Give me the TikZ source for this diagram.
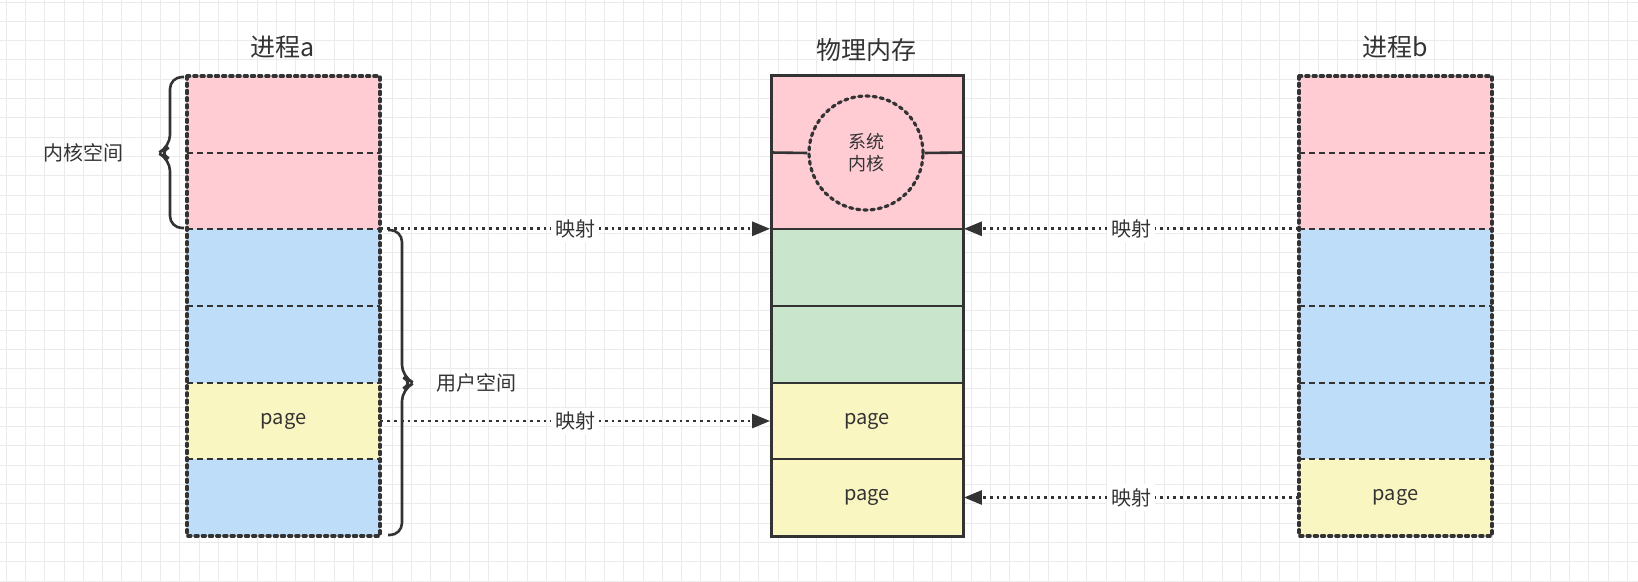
\documentclass[tikz,border=0pt]{standalone}
\usepackage{fontspec}
\setmainfont{Noto Sans CJK SC}
\usetikzlibrary{arrows.meta}
\definecolor{pk}{HTML}{FFCCD4}
\definecolor{bl}{HTML}{BEDDF9}
\definecolor{yl}{HTML}{FAF6C2}
\definecolor{gr}{HTML}{C9E5CB}
\definecolor{gl}{HTML}{EBEBEB}
\definecolor{tx}{HTML}{333333}
\tikzset{
 cell/.style={minimum width=96.5pt,minimum height=38.3pt,inner sep=0,draw=none,text=tx,font=\fontsize{10}{12}\selectfont},
 sep/.style={densely dashed,line width=1pt,draw=tx},
 outl/.style={dotted,line width=1.6pt,line cap=round,draw=tx},
 maparr/.style={dotted,line width=1.4pt,draw=tx,-{Triangle[length=9pt,width=7pt]}},
 lab/.style={fill=white,inner sep=2pt,text=tx,font=\fontsize{10}{12}\selectfont},
 ttl/.style={text=tx,font=\fontsize{12.5}{14}\selectfont},
 brc/.style={rounded corners=6pt,line width=1.3pt,draw=tx}
}
\begin{document}
\begin{tikzpicture}[x=0.5pt,y=-0.5pt]
\useasboundingbox (0,0) rectangle (1638,582);
\foreach \i in {0,...,84} \draw[gl,line width=0.4pt] (\i*19.3+6,0) -- (\i*19.3+6,582);
\foreach \i in {0,...,30} \draw[gl,line width=0.4pt] (0,\i*19.3+2) -- (1638,\i*19.3+2);
% process a
\foreach \n/\c/\y/\t in {a1/pk/114.5/,a2/pk/191/,a3/bl/267.5/,a4/bl/344.5/,a5/yl/421/page,a6/bl/497.5/}
 \node[cell,fill=\c] (\n) at (283.5,\y) {\t};
\foreach \y in {153,229,306,383,459} \draw[sep] (187,\y) -- (380,\y);
\draw[outl] (187,76) rectangle (380,536);
% process b
\foreach \n/\c/\y/\t in {b1/pk/114.5/,b2/pk/191/,b3/bl/267.5/,b4/bl/344.5/,b5/bl/421/,b6/yl/497.5/page}
 \node[cell,fill=\c] (\n) at (1395.5,\y) {\t};
\foreach \y in {153,229,306,383,459} \draw[sep] (1299,\y) -- (1492,\y);
\draw[outl] (1299,76) rectangle (1492,536);
% physical memory
\node[cell,fill=pk,minimum height=76.5pt] (m1) at (867,152.5) {};
\node[cell,fill=gr] (m2) at (867,267.5) {};
\node[cell,fill=gr] (m3) at (867,344.5) {};
\node[cell,fill=yl] (m4) at (867,421) {page};
\node[cell,fill=yl] (m5) at (867,497.5) {page};
\node[circle,minimum size=57pt,inner sep=0,dotted,line width=1.6pt,line cap=round,draw=tx,align=center,text=tx,font=\fontsize{9}{11}\selectfont] (k) at (866,153) {系统\\内核};
\draw[line width=1.3pt,tx] (m1.west) -- (k.west) (k.east) -- (m1.east);
\foreach \y in {229,306,383,459} \draw[line width=1.3pt,tx] (771,\y) -- (963,\y);
\draw[line width=1.5pt,tx] (771,76) rectangle (963,536);
% titles
\node[ttl] (ta) at (283,47) {进程a};
\node[ttl] (tm) at (866,50) {物理内存};
\node[ttl] (tb) at (1395,47) {进程b};
% mappings
\draw[maparr] (a3.north east) -- (m2.north west) node[lab,pos=0.5] {映射};
\draw[maparr] (a5.east) -- (m4.west) node[lab,pos=0.5] {映射};
\draw[maparr] (b3.north west) -- (m2.north east) node[lab,pos=0.5] {映射};
\draw[maparr] (b6.west) -- (m5.east) node[lab,pos=0.5] {映射};
% braces
\draw[brc] (184,77) -- (170,77) -- (170,147) -- (158,153) -- (170,159) -- (170,228) -- (184,228);
\node[lab,fill=none,anchor=east] (kl) at (128,153) {内核空间};
\draw[brc] (388,230) -- (402,230) -- (402,377) -- (414,383) -- (402,389) -- (402,535) -- (388,535);
\node[lab,fill=none,anchor=west] (ul) at (432,383) {用户空间};
\end{tikzpicture}
\end{document}
